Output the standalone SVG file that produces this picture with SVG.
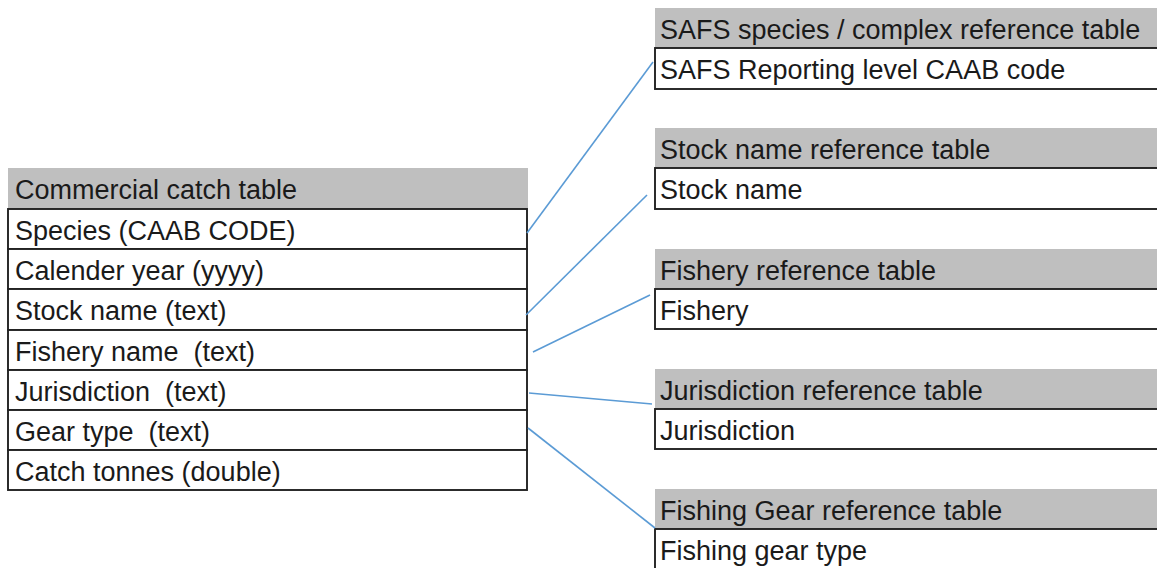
<svg xmlns="http://www.w3.org/2000/svg" width="1157" height="568" viewBox="0 0 1157 568">
  <style>
    .hdr { fill: #bfbfbf; }
    .cell { fill: #ffffff; stroke: #222222; stroke-width: 1.9; }
    .txt { font-family: "Liberation Sans", Arial, sans-serif; font-size: 27px; fill: #1a1a1a; white-space: pre; }
    .link { fill: none; stroke: #5b9bd5; stroke-width: 1.6; }
  </style>
  <rect width="1157" height="568" fill="#ffffff"/>

  <!-- main table -->
  <g id="commercial-catch-table">
    <rect class="hdr" x="8" y="168" width="520" height="41"/>
    <text class="txt" x="15" y="199">Commercial catch table</text>
    <rect class="cell" x="8" y="209" width="519" height="40"/>
    <text class="txt" x="15" y="240">Species (CAAB CODE)</text>
    <rect class="cell" x="8" y="249" width="519" height="40"/>
    <text class="txt" x="15" y="280">Calender year (yyyy)</text>
    <rect class="cell" x="8" y="289" width="519" height="41"/>
    <text class="txt" x="15" y="320">Stock name (text)</text>
    <rect class="cell" x="8" y="330" width="519" height="40"/>
    <text class="txt" x="15" y="361" xml:space="preserve">Fishery name  (text)</text>
    <rect class="cell" x="8" y="370" width="519" height="40"/>
    <text class="txt" x="15" y="401" xml:space="preserve">Jurisdiction  (text)</text>
    <rect class="cell" x="8" y="410" width="519" height="40"/>
    <text class="txt" x="15" y="441" xml:space="preserve">Gear type  (text)</text>
    <rect class="cell" x="8" y="450" width="519" height="40"/>
    <text class="txt" x="15" y="481">Catch tonnes (double)</text>
  </g>

  <!-- reference tables -->
  <g id="safs-reference-table">
    <rect class="hdr" x="655" y="8" width="510" height="40"/>
    <text class="txt" x="660" y="39">SAFS species / complex reference table</text>
    <rect class="cell" x="655" y="48" width="510" height="41"/>
    <text class="txt" x="660" y="79">SAFS Reporting level CAAB code</text>
  </g>

  <g id="stock-name-reference-table">
    <rect class="hdr" x="655" y="128" width="510" height="40"/>
    <text class="txt" x="660" y="159">Stock name reference table</text>
    <rect class="cell" x="655" y="168" width="510" height="41"/>
    <text class="txt" x="660" y="199">Stock name</text>
  </g>

  <g id="fishery-reference-table">
    <rect class="hdr" x="655" y="249" width="510" height="40"/>
    <text class="txt" x="660" y="280">Fishery reference table</text>
    <rect class="cell" x="655" y="289" width="510" height="40"/>
    <text class="txt" x="660" y="320">Fishery</text>
  </g>

  <g id="jurisdiction-reference-table">
    <rect class="hdr" x="655" y="369" width="510" height="40"/>
    <text class="txt" x="660" y="400">Jurisdiction reference table</text>
    <rect class="cell" x="655" y="409" width="510" height="40"/>
    <text class="txt" x="660" y="440">Jurisdiction</text>
  </g>

  <g id="fishing-gear-reference-table">
    <rect class="hdr" x="655" y="489" width="510" height="40"/>
    <text class="txt" x="660" y="520">Fishing Gear reference table</text>
    <rect class="cell" x="655" y="529" width="510" height="41"/>
    <text class="txt" x="660" y="560">Fishing gear type</text>
  </g>

  <!-- links between fields and lookup tables -->
  <g id="connectors">
    <line class="link" x1="527" y1="233" x2="653" y2="62"/>
    <line class="link" x1="526" y1="315" x2="647" y2="195"/>
    <line class="link" x1="533" y1="352" x2="650" y2="295"/>
    <line class="link" x1="529" y1="393" x2="652" y2="404"/>
    <line class="link" x1="528" y1="428" x2="655" y2="528"/>
  </g>
</svg>
